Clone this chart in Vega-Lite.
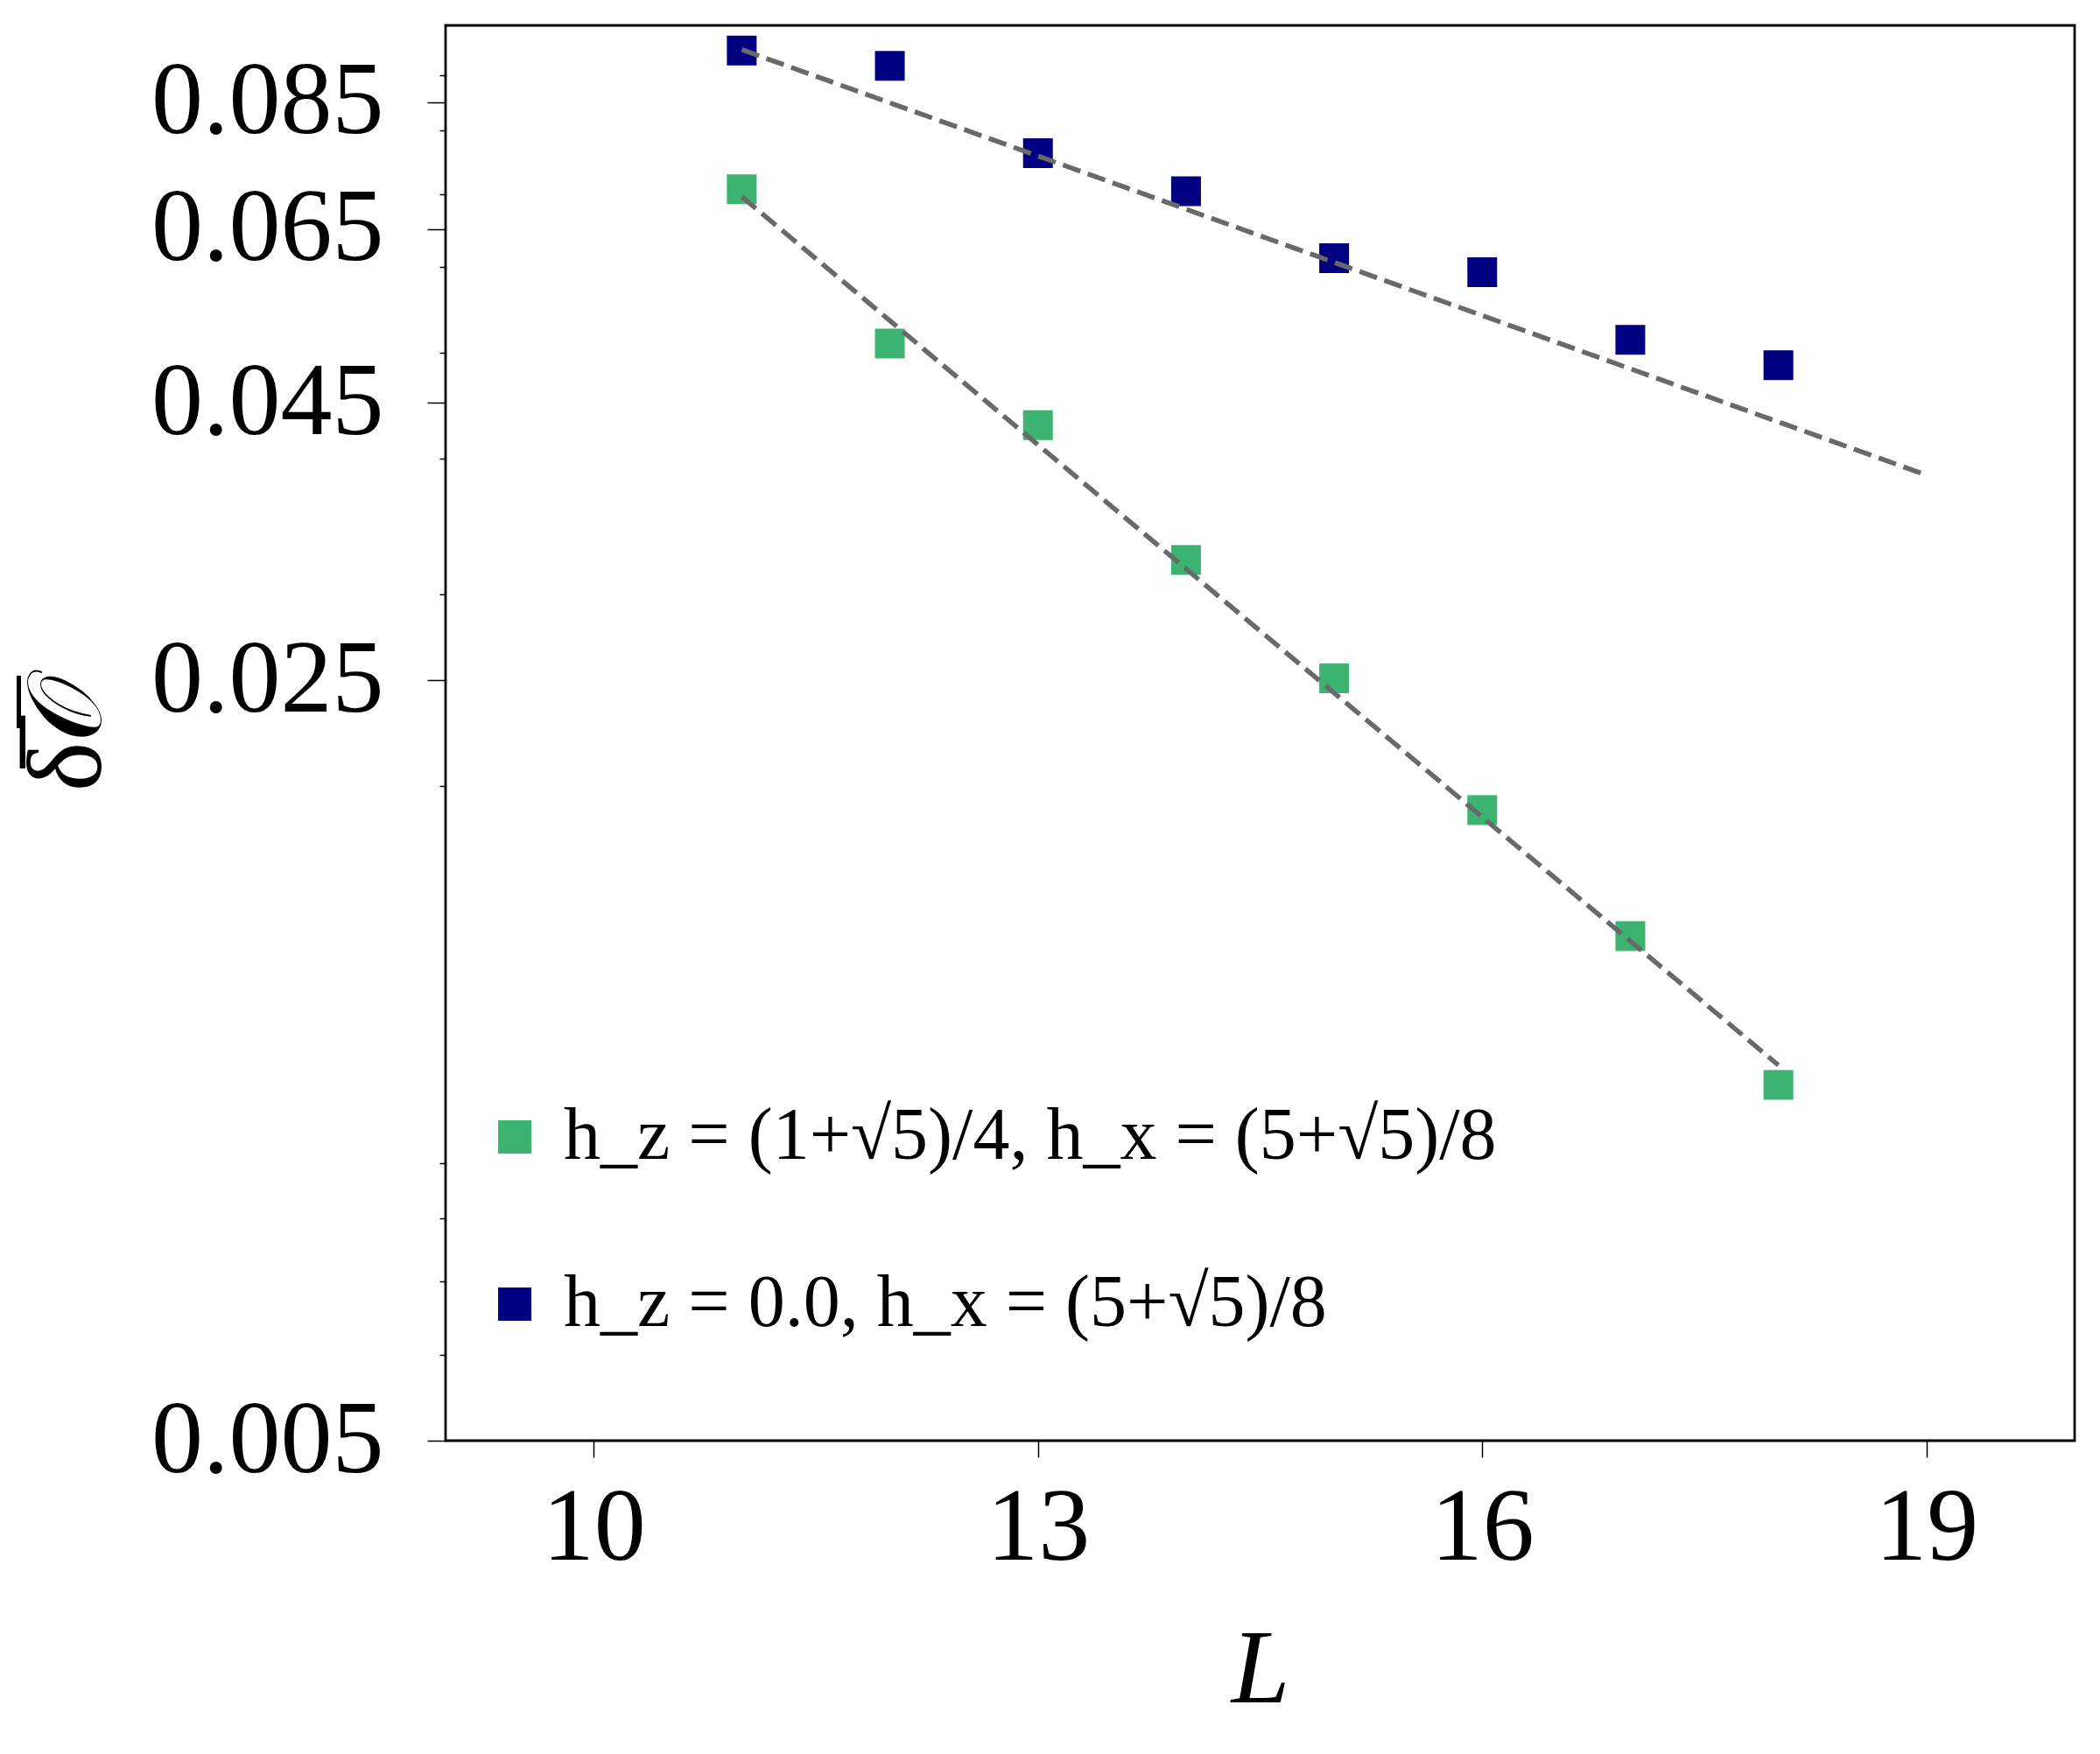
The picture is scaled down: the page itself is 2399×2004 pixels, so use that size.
{
  "$schema": "https://vega.github.io/schema/vega-lite/v6.json",
  "width": 1861,
  "height": 1617,
  "autosize": {"type": "none"},
  "padding": {"left": 509, "top": 29, "right": 29, "bottom": 358},
  "background": "white",
  "config": {
    "view": {"stroke": "black", "strokeWidth": 2.8},
    "font": "Liberation Serif",
    "axis": {
      "domain": false,
      "grid": false,
      "tickColor": "black",
      "tickWidth": 1.5,
      "labelColor": "black",
      "titleColor": "black",
      "labelFont": "Liberation Serif",
      "titleFont": "Liberation Serif",
      "titleFontWeight": "normal",
      "labelFlush": false,
      "labelOverlap": false,
      "labelLimit": 1000
    }
  },
  "datasets": {
    "points": [
      {"L": 11, "dO": 0.0707, "params": "h_z = (1+√5)/4, h_x = (5+√5)/8"},
      {"L": 12, "dO": 0.0510, "params": "h_z = (1+√5)/4, h_x = (5+√5)/8"},
      {"L": 13, "dO": 0.0429, "params": "h_z = (1+√5)/4, h_x = (5+√5)/8"},
      {"L": 14, "dO": 0.03225, "params": "h_z = (1+√5)/4, h_x = (5+√5)/8"},
      {"L": 15, "dO": 0.0251, "params": "h_z = (1+√5)/4, h_x = (5+√5)/8"},
      {"L": 16, "dO": 0.0190, "params": "h_z = (1+√5)/4, h_x = (5+√5)/8"},
      {"L": 17, "dO": 0.01455, "params": "h_z = (1+√5)/4, h_x = (5+√5)/8"},
      {"L": 18, "dO": 0.01062, "params": "h_z = (1+√5)/4, h_x = (5+√5)/8"},
      {"L": 11, "dO": 0.0948, "params": "h_z = 0.0, h_x = (5+√5)/8"},
      {"L": 12, "dO": 0.0918, "params": "h_z = 0.0, h_x = (5+√5)/8"},
      {"L": 13, "dO": 0.0763, "params": "h_z = 0.0, h_x = (5+√5)/8"},
      {"L": 14, "dO": 0.0704, "params": "h_z = 0.0, h_x = (5+√5)/8"},
      {"L": 15, "dO": 0.0611, "params": "h_z = 0.0, h_x = (5+√5)/8"},
      {"L": 16, "dO": 0.0593, "params": "h_z = 0.0, h_x = (5+√5)/8"},
      {"L": 17, "dO": 0.0514, "params": "h_z = 0.0, h_x = (5+√5)/8"},
      {"L": 18, "dO": 0.0487, "params": "h_z = 0.0, h_x = (5+√5)/8"}
    ],
    "fits": [
      {"L": 11, "dO": 0.0696, "params": "h_z = (1+√5)/4, h_x = (5+√5)/8"},
      {"L": 18, "dO": 0.01107, "params": "h_z = (1+√5)/4, h_x = (5+√5)/8"},
      {"L": 11, "dO": 0.0950, "params": "h_z = 0.0, h_x = (5+√5)/8"},
      {"L": 19, "dO": 0.0386, "params": "h_z = 0.0, h_x = (5+√5)/8"}
    ]
  },
  "layer": [
    {
      "data": {"name": "points"},
      "mark": {"type": "point", "shape": "square", "filled": true, "size": 1156, "opacity": 1},
      "encoding": {
        "x": {
          "field": "L",
          "type": "quantitative",
          "scale": {"domain": [9, 20], "nice": false, "zero": false},
          "axis": {
            "values": [10, 13, 16, 19],
            "format": "d",
            "tickSize": 19,
            "labelFontSize": 118,
            "labelPadding": 23,
            "title": "L",
            "titleFontSize": 120,
            "titleFontStyle": "italic",
            "titlePadding": 44
          }
        },
        "y": {
          "field": "dO",
          "type": "quantitative",
          "scale": {"type": "log", "domain": [0.005, 0.1], "nice": false},
          "axis": {
            "values": [0.005, 0.025, 0.045, 0.065, 0.085],
            "format": ".3f",
            "tickSize": 21,
            "labelFontSize": 118,
            "labelPadding": 50,
            "title": "δ̅𝒪̅",
            "titleFontSize": 120,
            "titlePadding": 170
          }
        },
        "color": {
          "field": "params",
          "type": "nominal",
          "scale": {
            "domain": ["h_z = (1+√5)/4, h_x = (5+√5)/8", "h_z = 0.0, h_x = (5+√5)/8"],
            "range": ["#3CB371", "#000080"]
          },
          "legend": {
            "orient": "none",
            "legendX": 37,
            "legendY": 1228,
            "title": null,
            "symbolType": "square",
            "symbolSize": 1444,
            "symbolStrokeWidth": 0,
            "symbolOpacity": 1,
            "labelFontSize": 84,
            "labelFont": "Liberation Serif",
            "labelColor": "black",
            "labelLimit": 2000,
            "labelOffset": 14,
            "rowPadding": 107,
            "padding": 0
          }
        }
      }
    },
    {
      "data": {"name": "fits"},
      "mark": {"type": "line", "color": "#696969", "strokeWidth": 5.5, "strokeDash": [21, 9]},
      "encoding": {
        "x": {"field": "L", "type": "quantitative"},
        "y": {
          "field": "dO",
          "type": "quantitative",
          "axis": {
            "orient": "left",
            "values": [0.006, 0.007, 0.008, 0.009, 0.02, 0.03, 0.04, 0.05, 0.06, 0.07, 0.08, 0.09],
            "labels": false,
            "tickSize": 7,
            "title": null
          }
        },
        "detail": {"field": "params"}
      }
    }
  ],
  "resolve": {"axis": {"y": "independent"}}
}
